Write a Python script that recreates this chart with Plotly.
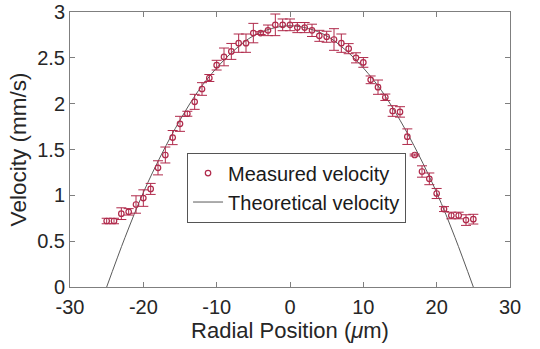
import plotly.graph_objects as go

radial_pos = [-25, -24, -23, -22, -21, -20, -19, -18, -17, -16, -15, -14, -13,
              -12, -11, -10, -9, -8, -7, -6, -5, -4, -3, -2, -1, 0, 1, 2, 3, 4,
              5, 6, 7, 8, 9, 10, 11, 12, 13, 14, 15, 16, 17, 18, 19, 20, 21, 22,
              23, 24, 25]
velocity = [0.72, 0.72, 0.80, 0.82, 0.90, 0.97, 1.07, 1.30, 1.44, 1.63, 1.78, 1.89,
            2.02, 2.16, 2.28, 2.42, 2.51, 2.57, 2.66, 2.66, 2.77, 2.77, 2.80, 2.86,
            2.86, 2.86, 2.83, 2.83, 2.80, 2.74, 2.73, 2.70, 2.66, 2.60, 2.50, 2.45,
            2.26, 2.18, 2.07, 1.92, 1.91, 1.64, 1.44, 1.26, 1.18, 1.02, 0.85, 0.78,
            0.78, 0.73, 0.74]
velocity_err = [0.03, 0.03, 0.064, 0.035, 0.095, 0.09, 0.06, 0.077, 0.087, 0.077,
                0.082, 0.027, 0.082, 0.069, 0.038, 0.053, 0.097, 0.087, 0.10, 0.10,
                0.106, 0.015, 0.058, 0.118, 0.064, 0.064, 0.055, 0.055, 0.067, 0.06,
                0.06, 0.118, 0.10, 0.055, 0.055, 0.053, 0.042, 0.078, 0.035, 0.058,
                0.057, 0.085, 0.01, 0.062, 0.064, 0.055, 0.027, 0.036, 0.036, 0.058,
                0.053]

# Theoretical velocity profile
theory_pos = [-25, -22.5, -20, -17.5, -15, -12.5, -10, -7.5, -5, -2.5, 0,
              2.5, 5, 7.5, 10, 12.5, 15, 17.5, 20, 22.5, 25]
theory_vel = [0.0, 0.54, 1.03, 1.45, 1.82, 2.14, 2.39, 2.59, 2.74, 2.82, 2.85,
              2.82, 2.74, 2.59, 2.39, 2.14, 1.82, 1.45, 1.03, 0.54, 0.0]

x_ticks = [-30, -20, -10, 0, 10, 20, 30]
x_tick_labels = ["-30", "-20", "-10", "0", "10", "20", "30"]
y_ticks = [0, 0.5, 1, 1.5, 2, 2.5, 3]
y_tick_labels = ["0", "0.5", "1", "1.5", "2", "2.5", "3"]

red = "#B02A4B"
font = "Liberation Sans, Arial, Helvetica, sans-serif"

fig = go.Figure()
fig.add_trace(go.Scatter(
    x=theory_pos, y=theory_vel, mode="lines", name="Theoretical velocity",
    line=dict(color="#5a5a5a", width=1, shape="spline"), showlegend=True,
    legendrank=2))
fig.add_trace(go.Scatter(
    x=radial_pos, y=velocity, mode="markers", name="Measured velocity",
    marker=dict(symbol="circle-open", size=5.5, color=red, line=dict(width=1.2, color=red)),
    error_y=dict(type="data", array=velocity_err, visible=True, color=red,
                 thickness=1, width=5),
    legendrank=1))

axis_common = dict(
    showline=True, linecolor="#7f7f7f", linewidth=1, mirror="ticks",
    ticks="inside", ticklen=5, tickcolor="#7f7f7f", showgrid=False,
    zeroline=False, automargin=False,
    tickfont=dict(family=font, size=20, color="#262626"),
)
fig.update_xaxes(range=[-30, 30], tickvals=x_ticks, ticktext=x_tick_labels, **axis_common,
                 ticklabelstandoff=2,
                 title=dict(text="Radial Position (<i>μ</i>m)",
                            font=dict(family=font, size=22, color="#262626"),
                            standoff=2))
fig.update_yaxes(range=[0, 3], tickvals=y_ticks, ticktext=y_tick_labels, **axis_common,
                 title=dict(text="Velocity (mm/s)",
                            font=dict(family=font, size=22.5, color="#262626"),
                            standoff=4))
fig.update_layout(
    width=540, height=349,
    margin=dict(l=70, r=30, t=12, b=62, autoexpand=False),
    paper_bgcolor="white", plot_bgcolor="white",
    legend=dict(x=0.266, y=0.489, xanchor="left", yanchor="top",
                bgcolor="white", bordercolor="#555555", borderwidth=1,
                font=dict(family=font, size=20, color="#1a1a1a"),
                tracegroupgap=0, itemwidth=30),
)
fig.write_html("out.html", config={"displayModeBar": False},
               post_script="document.body.style.margin='0';")
